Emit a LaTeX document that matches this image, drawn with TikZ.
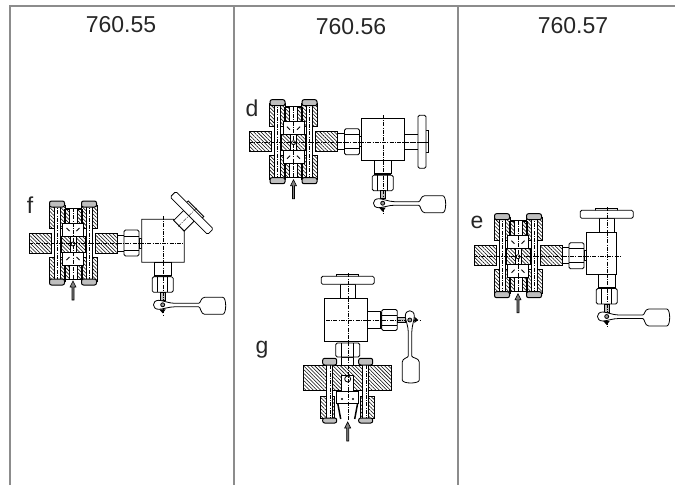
\documentclass[tikz,border=0pt]{standalone}
\usepackage{fontspec}
\setmainfont{Liberation Sans}
\usepackage{tikz}
\usetikzlibrary{arrows.meta,positioning,patterns.meta}

\tikzset{
  part/.style={draw, line width=.8pt, fill=white},
  hatched/.style={draw, line width=.8pt, pattern={Lines[angle=-45,distance=2.6pt,line width=.55pt]}},
  nutcap/.style={draw, line width=1pt, fill=black!25, rounded corners=2pt},
  axisline/.style={line width=.4pt, dash pattern=on 4pt off 1.2pt on 1pt off 1.2pt},
  frame/.style={draw=black!45, line width=1.4pt},
  title/.style={font=\fontsize{23}{25}\selectfont, text=black!85, inner sep=0pt},
  pics/joint/.style={code={
    % clamp plates
    \path[hatched] (-44,-10) rectangle (-22,10);
    \path[hatched] (22,-10) rectangle (44,10);
    \foreach \s in {-1,1} {
      \path[hatched] (\s*24,-38) rectangle (\s*8,-15);
      \path[hatched] (\s*24,14) rectangle (\s*8,38);
      \path[hatched] (\s*4,-34) -- (\s*9,-34) -- (\s*9,-20) -- (\s*4,-20) -- cycle;
      \path[hatched] (\s*4,22) -- (\s*9,22) -- (\s*9,36) -- (\s*4,36) -- cycle;
      \draw[part] (\s*19,-37) rectangle (\s*13,37);
      \draw[axisline] (\s*16,-40) -- (\s*16,40);
      \path[nutcap] (\s*23.5,-42) rectangle (\s*8.5,-36);
      \path[nutcap] (\s*23.5,36) rectangle (\s*8.5,42);
    }
    \draw[line width=.8pt] (-8,-35) -- (8,-35) (-8,36) -- (8,36);
    \path[hatched] (-12,-7) rectangle (12,9);
    \draw[part] (-3,-7) rectangle (3,9);
    \draw[line width=.8pt] (0,1) circle (2);
    \draw[part, line width=1pt] (-10.5,-20) rectangle (10.5,-7);
    \draw[part, line width=1pt] (-10.5,9) rectangle (10.5,22);
    \draw[axisline] (0,-35) -- (0,36);
    \foreach \s in {-1,1} {
      \draw[line width=.9pt] (\s*6.5,-15) -- (\s*3.5,-12);
      \draw[line width=.9pt] (\s*6.5,17) -- (\s*3.5,14);
    }
    % pressure arrow
    \draw[line width=.6pt, fill=black!50] (-1,57) -- (1,57) -- (1,44) -- (3,44) -- (0,38) -- (-3,44) -- (-1,44) -- cycle;
    % union to the valve body
    \draw[part] (44,-8) rectangle (51,8);
    \draw[part, rounded corners=1.5pt] (51,-13) rectangle (66,13);
    \draw[line width=.5pt] (51,-7) -- (66,-7) (51,7) -- (66,7);
    \draw[part] (66,-5) rectangle (68,5);
  }},
  pics/wheel/.style={code={
    \draw[part] (-7.5,-14) rectangle (7.5,0);
    \draw[part] (-11,-24) rectangle (11,-21);
    \draw[part, rounded corners=1.5pt] (-26.5,-22) rectangle (26.5,-14);
    \draw[axisline] (0,-25) -- (0,2);
  }},
  pics/drain/.style={code={
    \draw[part] (-8.5,0) rectangle (8.5,13);
    \fill (-8.5,12.5) rectangle (8.5,14.5);
    \draw[part, rounded corners=1.5pt] (-10.5,14.5) rectangle (10.5,30);
    \draw[line width=.5pt] (-5,14.5) -- (-5,30) (5,14.5) -- (5,30);
    \draw[part, fill=black!25] (-2.5,30) rectangle (2.5,38);
    \draw[axisline] (0,0) -- (0,38);
    % lever
    \draw[part] (-4,38) .. controls (-11,38) and (-11,47) .. (-4,47)
      .. controls (0,47) and (6,44.5) .. (12,44.5) -- (36,44.5)
      .. controls (38,44.5) and (38,52) .. (42,52) -- (60,52)
      .. controls (64,52) and (64,35) .. (60,35) -- (42,35)
      .. controls (38,35) and (38,41) .. (36,41) -- (12,41)
      .. controls (6,41) and (0,38) .. (-4,38) -- cycle;
    \fill (-3.5,47) -- (3,47) -- (0,51) -- cycle;
    \draw[line width=.8pt, fill=black!40] (0,42.5) circle (2);
    \draw[axisline] (0,47) -- (0,54);
  }}
}

\begin{document}
\begin{tikzpicture}[x=1pt, y=-1pt]
  \useasboundingbox (0,0) rectangle (675,485);

  % table lines
  \draw[frame] (10,485) -- (10,6) -- (675,6);
  \draw[frame] (234,6) -- (234,485);
  \draw[frame] (458,6) -- (458,485);

  \node[title] (colA) at (121,25) {760.55};
  \node[title] (colB) at (351,27) {760.56};
  \node[title] (colC) at (573,26) {760.57};
  \node[title] (lblF) at (30,205) {f};
  \node[title] (lblD) at (252,108) {d};
  \node[title] (lblE) at (477,222) {e};
  \node[title] (lblG) at (262,350) {g};

  % f
  \pic at (73,243) {joint};
  \draw[part] (141.7,219.3) -- (173.5,219.3) -- (184.3,231.5) -- (184.3,262.3) -- (141.7,262.3) -- cycle;
  \pic[rotate=-45] at (179,225.7) {wheel};
  \draw[axisline] (29,243) -- (184,243);
  \draw[axisline] (162.7,216) -- (162.7,262);
  \pic at (162.7,262.3) {drain};

  % d
  \pic at (293.5,141.7) {joint};
  \draw[part] (361.5,118.3) rectangle (404,160.7);
  \pic[rotate=-90] at (404,141.7) {wheel};
  \draw[axisline] (249,141.7) -- (425,141.7);
  \draw[axisline] (382.7,115) -- (382.7,160);
  \pic at (382.7,160.7) {drain};

  % e
  \pic at (518,255.7) {joint};
  \draw[part] (586,232.3) rectangle (616.7,274);
  \pic at (606.7,232.3) {wheel};
  \draw[axisline] (474,255.7) -- (620,255.7);
  \draw[axisline] (606.7,232) -- (606.7,274);
  \pic at (606.7,274) {drain};

  % g
  \path[hatched] (303.7,365) rectangle (391.7,390);
  \draw[part] (341.7,357) rectangle (353.7,365);
  \draw[part, rounded corners=1.5pt] (335.7,343) rectangle (359.7,357);
  \draw[line width=.5pt] (341.7,343) -- (341.7,357) (353.7,343) -- (353.7,357);
  \path[hatched] (320.7,396.7) rectangle (334.7,418);
  \path[hatched] (360.7,396.7) rectangle (374.7,418);
  \draw[part] (341.7,375) rectangle (353.7,391);
  \draw[line width=.8pt] (347.7,379) circle (3);
  \draw[line width=1.5pt] (337.7,403) -- (340.7,419) (357.7,403) -- (354.7,419);
  \draw[part, line width=1pt] (336.7,391.7) rectangle (358.7,403);
  \fill (342,399) circle (1.2) (353,399) circle (1.2);
  \foreach \s in {-18,18} {
    \draw[part] (347.7+\s-3,363) rectangle (347.7+\s+3,419);
    \draw[axisline] (347.7+\s,358) -- (347.7+\s,423);
    \path[nutcap] (347.7+\s-7,358.3) rectangle (347.7+\s+7,365);
    \path[nutcap] (347.7+\s-7,418) rectangle (347.7+\s+7,423);
  }
  \draw[line width=.6pt, fill=black!50] (346.7,441) -- (348.7,441) -- (348.7,428) -- (350.7,428) -- (347.7,422) -- (344.7,428) -- (346.7,428) -- cycle;
  \draw[part] (324,298.3) rectangle (367.3,341);
  \pic at (347.7,298.3) {wheel};
  \draw[axisline] (347.7,298) -- (347.7,420);
  \draw[axisline] (326,320) -- (404,320);
  \pic[rotate=90, xscale=-1] at (367.3,320) {drain};
\end{tikzpicture}
\end{document}
